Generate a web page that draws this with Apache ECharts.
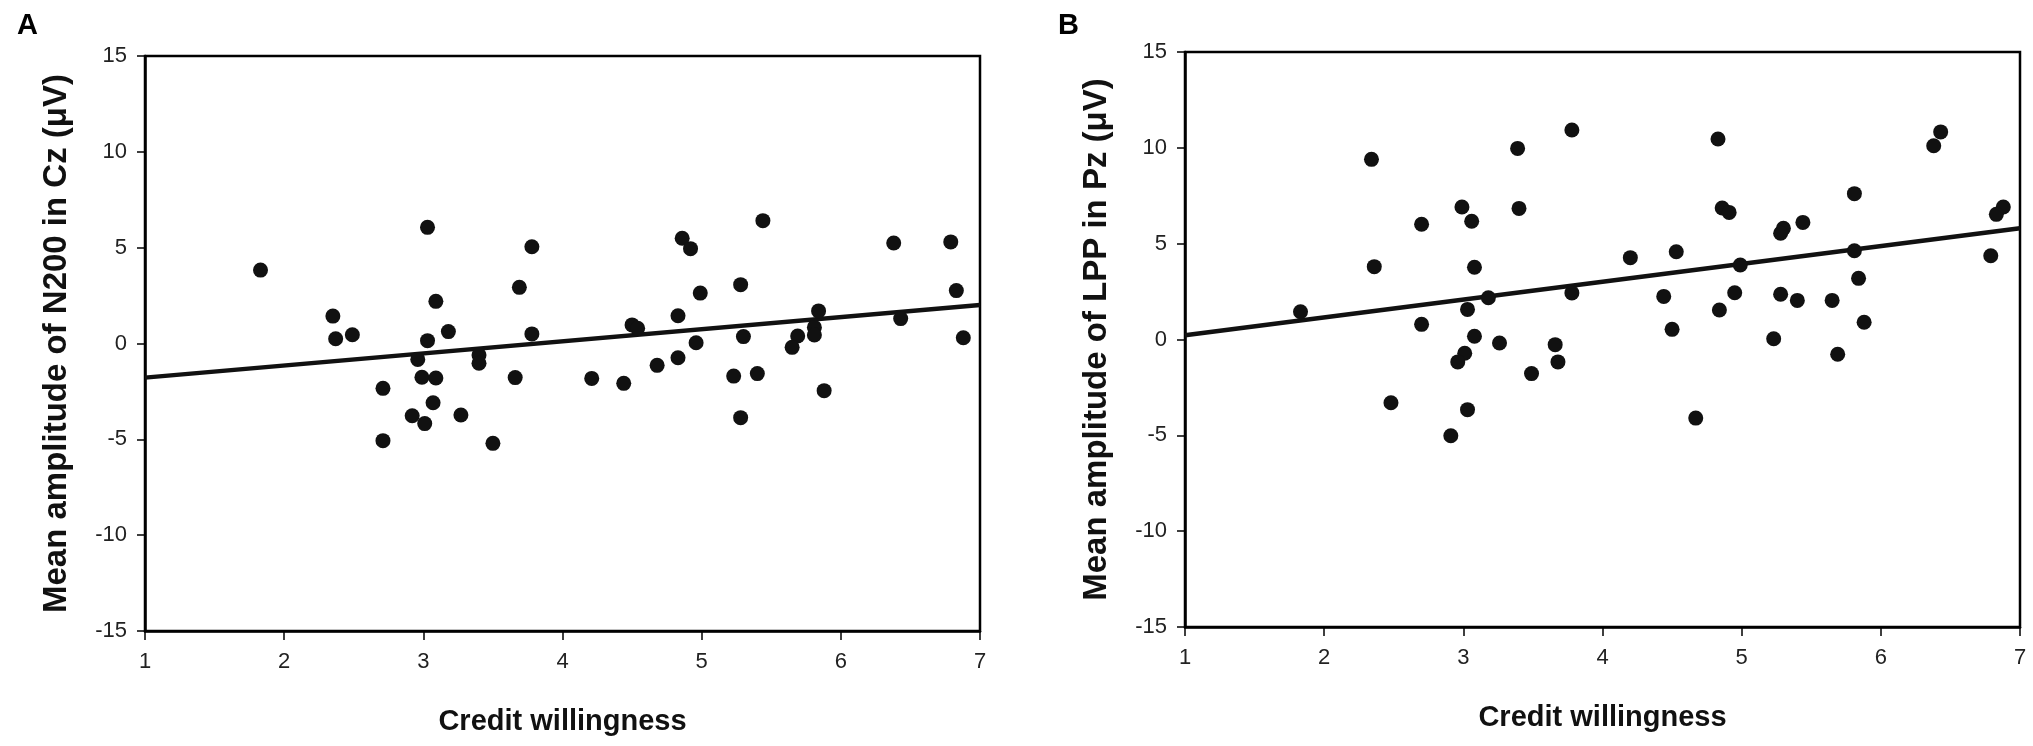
<!DOCTYPE html>
<html>
<head>
<meta charset="utf-8">
<script src="https://cdn.jsdelivr.net/npm/echarts@6/dist/echarts.min.js"></script>
<style>
html,body{margin:0;padding:0;background:#fff;}
#chart{width:2033px;height:746px;}
</style>
</head>
<body>
<div id="chart"></div>
<script>
// Panel A: Credit willingness vs N200 amplitude in Cz
const xA = [1.83,3.03,3.78,3.69,3.09,2.35,2.37,2.49,3.18,3.03,3.78,2.96,3.40,3.40,2.99,3.09,3.66,2.71,3.07,2.92,3.01,3.27,2.71,3.50,
            5.44,4.86,4.92,6.38,6.79,5.28,4.99,6.83,4.83,5.84,4.50,4.54,6.43,5.81,5.81,5.69,5.65,5.30,6.88,4.96,4.83,4.68,4.21,4.44,5.23,5.40,5.88,5.28];
const yA = [3.83,6.06,5.05,2.93,2.20,1.43,0.25,0.46,0.62,0.15,0.50,-0.83,-0.60,-1.03,-1.76,-1.80,-1.78,-2.34,-3.09,-3.77,-4.18,-3.73,-5.07,-5.21,
            6.41,5.49,4.95,5.24,5.30,3.07,2.63,2.76,1.45,1.70,0.97,0.79,1.30,0.84,0.44,0.39,-0.20,0.36,0.30,0.04,-0.74,-1.14,-1.82,-2.08,-1.70,-1.57,-2.46,-3.87];
// Panel B: Credit willingness vs LPP amplitude in Pz
const xB = [2.34,3.39,3.78,2.99,3.06,2.70,3.40,2.36,3.08,3.18,3.78,1.83,3.03,2.70,3.08,3.26,3.66,3.68,3.01,2.96,3.49,2.48,3.03,2.91,
            4.83,6.43,6.38,5.81,4.86,4.91,6.88,6.83,5.44,5.30,5.28,4.20,4.53,4.99,5.81,6.79,5.84,4.44,4.95,5.28,5.40,5.65,4.84,5.88,4.50,5.23,5.69,4.67];
const yB = [9.40,9.97,10.93,6.91,6.17,6.01,6.84,3.80,3.77,2.18,2.43,1.45,1.57,0.79,0.17,-0.18,-0.27,-1.17,-0.72,-1.17,-1.78,-3.30,-3.66,-5.02,
            10.46,10.83,10.11,7.61,6.86,6.63,6.91,6.53,6.11,5.80,5.54,4.27,4.58,3.89,4.63,4.37,3.19,2.25,2.44,2.36,2.04,2.04,1.54,0.90,0.53,0.04,-0.77,-4.10];
// Regression line end points
const fitX = [1, 7];
const fitA = [-1.78, 2.01];
const fitB = [0.22, 5.80];
// Axis ticks
const xTicks = [1, 7, 1];     // min, max, interval
const yTicks = [-15, 15, 5];
const xTitle = 'Credit willingness';
const yTitles = ['Mean amplitude of N200 in Cz (\u03BCV)', 'Mean amplitude of LPP in Pz (\u03BCV)'];
const panelLabels = ['A', 'B'];

const FONT = "'Liberation Sans', Arial, sans-serif";
const pts = (xs, ys) => xs.map((x, i) => [x, ys[i]]);
const fit = (ys) => fitX.map((x, i) => [x, ys[i]]);

const grids = [
  {left: 145, top: 56, width: 835, height: 575},
  {left: 1185, top: 52, width: 835, height: 575}
];

function xAxis(idx) {
  return {
    gridIndex: idx, type: 'value', min: xTicks[0], max: xTicks[1], interval: xTicks[2],
    name: xTitle, nameLocation: 'middle', nameGap: 76,
    nameTextStyle: {fontFamily: FONT, fontSize: 29, fontWeight: 'bold', color: '#111'},
    axisLine: {show: true, onZero: false, lineStyle: {color: '#000', width: 2.5}},
    axisTick: {show: true, inside: false, length: 9, lineStyle: {color: '#000', width: 1.5}},
    axisLabel: {fontFamily: FONT, fontSize: 22, color: '#222', margin: 20},
    splitLine: {show: false}
  };
}
function yAxis(idx) {
  return {
    gridIndex: idx, type: 'value', min: yTicks[0], max: yTicks[1], interval: yTicks[2],
    name: yTitles[idx], nameLocation: 'middle', nameGap: 72,
    nameTextStyle: {fontFamily: FONT, fontSize: 33, fontWeight: 'bold', color: '#111'},
    axisLine: {show: true, onZero: false, lineStyle: {color: '#000', width: 2.5}},
    axisTick: {show: true, inside: false, length: 8, lineStyle: {color: '#000', width: 1.5}},
    axisLabel: {fontFamily: FONT, fontSize: 22, color: '#222', margin: 18},
    splitLine: {show: false}
  };
}

const chart = echarts.init(document.getElementById('chart'), null, {renderer: 'canvas'});
chart.setOption({
  animation: false,
  backgroundColor: '#fff',
  grid: grids.map(g => Object.assign({show: true, borderColor: '#000', borderWidth: 2.5, backgroundColor: 'transparent'}, g)),
  xAxis: [xAxis(0), xAxis(1)],
  yAxis: [yAxis(0), yAxis(1)],
  graphic: [
    {type: 'text', left: 17, top: 11, style: {text: panelLabels[0], font: "bold 29px 'Liberation Sans', Arial", fill: '#000'}},
    {type: 'text', left: 1058, top: 11, style: {text: panelLabels[1], font: "bold 29px 'Liberation Sans', Arial", fill: '#000'}}
  ],
  series: [
    {type: 'line', xAxisIndex: 0, yAxisIndex: 0, data: fit(fitA), symbol: 'none',
     lineStyle: {color: '#111', width: 4.5}, z: 2},
    {type: 'scatter', xAxisIndex: 0, yAxisIndex: 0, data: pts(xA, yA), symbol: 'circle', symbolSize: 15,
     itemStyle: {color: '#111', opacity: 1}, z: 3},
    {type: 'line', xAxisIndex: 1, yAxisIndex: 1, data: fit(fitB), symbol: 'none',
     lineStyle: {color: '#111', width: 4.5}, z: 2},
    {type: 'scatter', xAxisIndex: 1, yAxisIndex: 1, data: pts(xB, yB), symbol: 'circle', symbolSize: 15,
     itemStyle: {color: '#111', opacity: 1}, z: 3}
  ]
});
</script>
</body>
</html>
